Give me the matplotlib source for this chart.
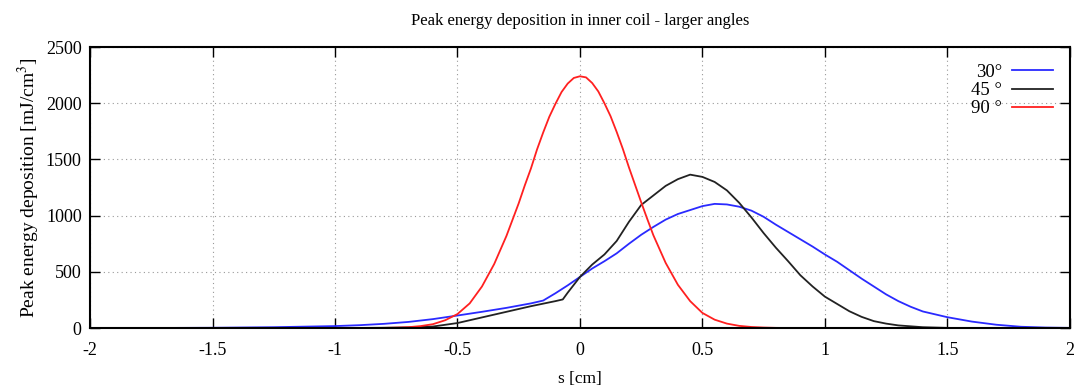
import matplotlib
matplotlib.use("Agg")
import matplotlib.pyplot as plt

# ---- data ----
s_30 = [-2.0, -1.75, -1.5, -1.25, -1.0, -0.9, -0.8, -0.7, -0.6, -0.5, -0.4, -0.3, -0.2, -0.15,
        -0.1, -0.05, 0.0, 0.05, 0.1, 0.15, 0.2, 0.25, 0.3, 0.35, 0.4, 0.45, 0.5, 0.55, 0.6,
        0.65, 0.7, 0.75, 0.8, 0.85, 0.9, 0.95, 1.0, 1.05, 1.1, 1.15, 1.2, 1.25, 1.3, 1.35,
        1.4, 1.5, 1.6, 1.7, 1.8, 1.9, 2.0]
v_30 = [0, 1, 3, 8, 18, 26, 38, 55, 80, 112, 145, 180, 220, 245,
        310, 380, 455, 530, 595, 665, 750, 830, 900, 965, 1015, 1050, 1085, 1105, 1100,
        1080, 1045, 990, 920, 855, 790, 725, 655, 590, 515, 440, 370, 300, 240, 190,
        148, 97, 58, 30, 12, 5, 2]

s_45 = [-2.0, -1.0, -0.8, -0.7, -0.6, -0.5, -0.4, -0.3, -0.2, -0.1, -0.07, -0.05, 0.0, 0.05,
        0.1, 0.15, 0.2, 0.25, 0.3, 0.35, 0.4, 0.45, 0.5, 0.55, 0.6, 0.65, 0.7, 0.75, 0.8,
        0.85, 0.9, 0.95, 1.0, 1.05, 1.1, 1.15, 1.2, 1.25, 1.3, 1.4, 1.5, 1.6, 2.0]
v_45 = [0, 0, 3, 6, 14, 45, 95, 145, 195, 240, 255, 315, 455, 565,
        655, 775, 945, 1095, 1180, 1265, 1325, 1365, 1345, 1300, 1225, 1115, 985, 845, 715,
        595, 470, 370, 280, 215, 150, 100, 62, 40, 24, 8, 2, 0, 0]

s_90 = [-2.0, -1.0, -0.9, -0.8, -0.75, -0.7, -0.65, -0.6, -0.55, -0.5, -0.45, -0.4, -0.35,
        -0.3, -0.275, -0.25, -0.225, -0.2, -0.175, -0.15, -0.125, -0.1, -0.075, -0.05, -0.025,
        0.0, 0.025, 0.05, 0.075, 0.1, 0.125, 0.15, 0.175, 0.2, 0.225, 0.25, 0.275, 0.3, 0.35,
        0.4, 0.45, 0.5, 0.55, 0.6, 0.65, 0.7, 0.75, 0.8, 0.9, 2.0]
v_90 = [0, 0, 0, 2, 4, 8, 18, 35, 70, 125, 220, 370, 570,
        820, 965, 1110, 1270, 1420, 1590, 1740, 1880, 1995, 2100, 2175, 2225,
        2240, 2230, 2180, 2105, 2000, 1885, 1745, 1595, 1430, 1275, 1120, 970, 825, 580,
        385, 240, 135, 75, 40, 20, 10, 5, 2, 0, 0]

labels = ["30°", "45 °", "90 °"]
colors = ["#2a2aff", "#222222", "#ff2020"]

x_ticks = [-2, -1.5, -1, -0.5, 0, 0.5, 1, 1.5, 2]
x_tick_labels = ["-2", "-1.5", "-1", "-0.5", "0", "0.5", "1", "1.5", "2"]
y_ticks = [0, 500, 1000, 1500, 2000, 2500]

plt.rcParams["font.family"] = ["Liberation Serif", "DejaVu Serif"]
plt.rcParams["mathtext.fontset"] = "stix"

fig = plt.figure(figsize=(10.85, 3.92), dpi=100)
ax = fig.add_axes([0.083, 0.163, 0.903, 0.717])

for s, v, lab, c in zip([s_30, s_45, s_90], [v_30, v_45, v_90], labels, colors):
    ax.plot(s, v, color=c, lw=1.3, label=lab)

ax.set_xlim(-2, 2)
ax.set_ylim(0, 2500)
ax.set_xticks(x_ticks)
ax.set_xticklabels(x_tick_labels)
ax.set_yticks(y_ticks)
ax.tick_params(direction="in", length=7, width=1, top=True, right=True,
               labelsize=13, pad=10)
ax.tick_params(axis="y", pad=6)
ax.grid(True, linestyle=(0, (1, 3)), color="#999999", lw=0.8)
for sp in ax.spines.values():
    sp.set_linewidth(1.5)

ax.set_title("Peak energy deposition in inner coil - larger angles", fontsize=12, pad=16)
ax.set_xlabel("s [cm]", fontsize=12.5, labelpad=9)
ax.set_ylabel("Peak energy deposition [mJ/cm$^3$]", fontsize=14, labelpad=3)

leg = ax.legend(loc="upper right", frameon=False, markerfirst=False, fontsize=13.5,
                handlelength=2.2, labelspacing=0.05, borderaxespad=0.5, handletextpad=0.5)

fig.savefig("out.png", dpi=100)
